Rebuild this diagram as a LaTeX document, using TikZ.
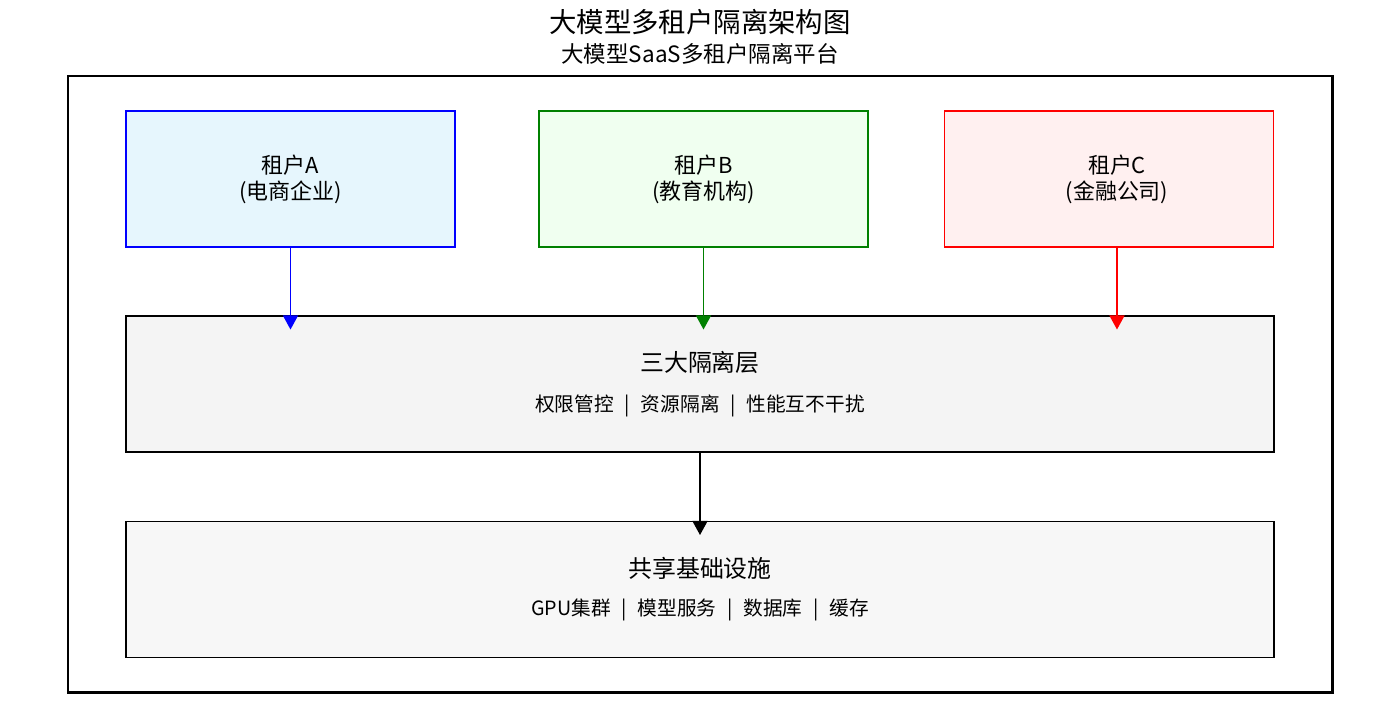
\documentclass[tikz,border=0pt]{standalone}
\usepackage{fontspec}
\setmainfont{Noto Sans CJK SC}
\usetikzlibrary{arrows.meta}
\definecolor{fillA}{HTML}{E6F6FD}
\definecolor{fillB}{HTML}{F0FFF0}
\definecolor{fillC}{HTML}{FFF0F0}
\definecolor{fillIso}{HTML}{F4F4F4}
\definecolor{fillInfra}{HTML}{F7F7F7}
\definecolor{darkgreen}{RGB}{0,128,0}
\newcommand{\sepbar}{\hspace{0.55em}|\hspace{0.55em}}
\begin{document}
\begin{tikzpicture}[x=0.02cm,y=-0.02cm,
    tenant/.style={draw,line width=0.85pt,minimum width=329*0.02cm,minimum height=136*0.02cm,inner sep=0pt},
    layer/.style={draw,line width=0.6pt,minimum width=1148*0.02cm,minimum height=136*0.02cm,inner sep=0pt},
    flow/.style={line width=0.9pt,-{Triangle[length=8pt,width=8.5pt]},shorten >=-8pt},
    lbl/.style={align=center,font=\fontsize{12.5}{14.8}\selectfont}]
  \useasboundingbox (0,0) rectangle (1400,707);
  % title
  \node (t1) at (700,22) {\fontsize{15.6}{18}\selectfont 大模型多租户隔离架构图};
  \node (t2) at (700,54) {\fontsize{12.8}{15}\selectfont 大模型SaaS多租户隔离平台};
  % outer frame
  \draw[line width=1.7pt] (68,76) rectangle (1332,692);
  % tenants
  \node[tenant,draw=blue,fill=fillA] (ta) at (290.5,179) {};
  \node[tenant,draw=darkgreen,fill=fillB] (tb) at (703.5,179) {};
  \node[tenant,draw=red,fill=fillC] (tc) at (1109,179) {};
  \node[lbl] (la) at (290.5,179) {租户A\\(电商企业)};
  \node[lbl] (lb) at (703.5,179) {租户B\\(教育机构)};
  \node[lbl] (lc) at (1117,179) {租户C\\(金融公司)};
  % layers
  \node[layer,fill=fillIso] (iso) at (700,384) {};
  \node (isot) at (700,362) {\fontsize{13.6}{16}\selectfont 三大隔离层};
  \node (isos) at (700,406) {\fontsize{11.2}{13}\selectfont 权限管控\sepbar 资源隔离\sepbar 性能互不干扰};
  \node[layer,fill=fillInfra] (infra) at (700,589.5) {};
  \node (inft) at (700,568) {\fontsize{13.6}{16}\selectfont 共享基础设施};
  \node (infs) at (700,610) {\fontsize{11.2}{13}\selectfont GPU集群\sepbar 模型服务\sepbar 数据库\sepbar 缓存};
  % arrows
  \begin{scope}[flow]
    \draw[blue] (ta.south) -- (ta.south |- iso.north);
    \draw[darkgreen] (tb.south) -- (tb.south |- iso.north);
    \draw[red] (lc |- tc.south) -- (lc |- iso.north);
    \draw[black] (iso.south) -- (infra.north);
  \end{scope}
\end{tikzpicture}
\end{document}
